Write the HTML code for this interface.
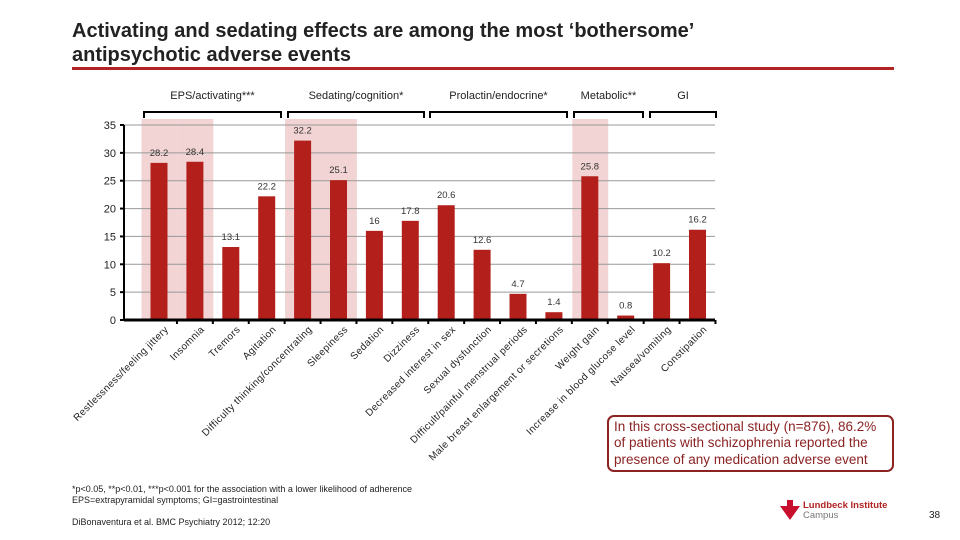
<!DOCTYPE html>
<html><head><meta charset="utf-8"><style>
body{margin:0;width:960px;height:540px;background:#fff;overflow:hidden;font-family:"Liberation Sans",sans-serif;}
svg{display:block}
</style></head><body>
<svg width="960" height="540">
<text x="72" y="37" font-size="20" font-weight="bold" fill="#222">Activating and sedating effects are among the most ‘bothersome’</text>
<text x="72" y="61" font-size="20" font-weight="bold" fill="#222">antipsychotic adverse events</text>
<rect x="72" y="67" width="822" height="3" fill="#b22222"/>
<g id="chart"></g>
<rect x="608" y="416" width="285" height="55" rx="6" fill="#fff" stroke="#8b2323" stroke-width="2"/>
<text font-size="13.5" fill="#8b2323"><tspan x="614" y="431">In this cross-sectional study (n=876), 86.2%</tspan><tspan x="614" y="447">of patients with schizophrenia reported the</tspan><tspan x="614" y="464">presence of any medication adverse event</tspan></text>
<text x="72" y="492" font-size="9" fill="#222">*p&lt;0.05, **p&lt;0.01, ***p&lt;0.001 for the association with a lower likelihood of adherence</text>
<text x="72" y="503" font-size="9" fill="#222">EPS=extrapyramidal symptoms; GI=gastrointestinal</text>
<text x="72" y="525" font-size="9" fill="#222">DiBonaventura et al. BMC Psychiatry 2012; 12:20</text>
<g>
<rect x="787" y="500" width="6" height="6" fill="#c8102e"/>
<polygon points="780,506 800,506 790,520" fill="#c8102e"/>
<text x="803" y="508" font-size="9.5" font-weight="bold" fill="#b22222">Lundbeck Institute</text>
<text x="803" y="518" font-size="9.5" fill="#777">Campus</text>
</g>
<text x="929" y="518" font-size="10" fill="#222">38</text>
</svg>
<script>
const categories=["Restlessness/feeling jittery","Insomnia","Tremors","Agitation","Difficulty thinking/concentrating","Sleepiness","Sedation","Dizziness","Decreased interest in sex","Sexual dysfunction","Difficult/painful menstrual periods","Male breast enlargement or secretions","Weight gain","Increase in blood glucose level","Nausea/vomiting","Constipation"];
const values=[28.2,28.4,13.1,22.2,32.2,25.1,16,17.8,20.6,12.6,4.7,1.4,25.8,0.8,10.2,16.2];
const highlighted=[0,1,4,5,12];
const yTicks=[0,5,10,15,20,25,30,35];
const groups=["EPS/activating***","Sedating/cognition*","Prolactin/endocrine*","Metabolic**","GI"];
const groupSpans=[[144,281],[288,424],[430,567],[574,643],[650,716]];
const NS="http://www.w3.org/2000/svg";
const g=document.getElementById('chart');
const x0=124,x1=715,y0=320,yTop=125,yMax=35;
const step=35.9,first=159;
const X=i=>first+step*i;
const Y=v=>y0-(v/yMax)*(y0-yTop);
function mk(t,a){const e=document.createElementNS(NS,t);for(const k in a)e.setAttribute(k,a[k]);g.appendChild(e);return e;}
highlighted.forEach(i=>{
 const r=mk('rect',{x:X(i)-17.5,y:yTop-6,width:step,height:y0-yTop+6,fill:'#f2d4d4'});
 
 
});
yTicks.forEach(t=>{
 if(t>0){const l=mk('line',{x1:x0,x2:x1,y1:Y(t),y2:Y(t),stroke:'#999','stroke-width':1});
 
 }
 const tk=mk('line',{x1:x0-4,x2:x0,y1:Y(t),y2:Y(t),stroke:'#000','stroke-width':2});
 
 
 const tx=mk('text',{x:x0-8,y:Y(t)+4,'font-size':11,'text-anchor':'end',fill:'#222'});
 tx.textContent=t;
 
 
});
values.forEach((v,i)=>{
 const b=mk('rect',{x:X(i)-8.5,y:Y(v),width:17,height:y0-Y(v),fill:'#b3201c'});
 
 
 const t=mk('text',{x:X(i),y:Y(v)-7,'font-size':9.5,'text-anchor':'middle',fill:'#333'});
 t.textContent=v;
 
 
 const tk=mk('line',{x1:X(i)+step/2,x2:X(i)+step/2,y1:y0,y2:y0+4,stroke:'#000','stroke-width':2});
 
 
 const lx=X(i)+10,ly=y0+10;
 const l=mk('text',{x:lx,y:ly,'font-size':10,'letter-spacing':'0.4','text-anchor':'end',fill:'#222',transform:`rotate(-45 ${lx} ${ly})`});
 l.textContent=categories[i];
 
 
});
const ax=mk('line',{x1:x0,x2:x0,y1:yTop,y2:y0,stroke:'#000','stroke-width':2});


const xa=mk('line',{x1:x0,x2:x1,y1:y0,y2:y0,stroke:'#000','stroke-width':3});


groups.forEach((n,i)=>{
 const [a,b]=groupSpans[i];
 const p=mk('path',{d:`M${a},118 V112 H${b} V118`,fill:'none',stroke:'#000','stroke-width':2});
 
 
 const t=mk('text',{x:(a+b)/2,y:99,'font-size':11,'text-anchor':'middle',fill:'#222'});
 t.textContent=n;
 
 
});
</script>
</body></html>
